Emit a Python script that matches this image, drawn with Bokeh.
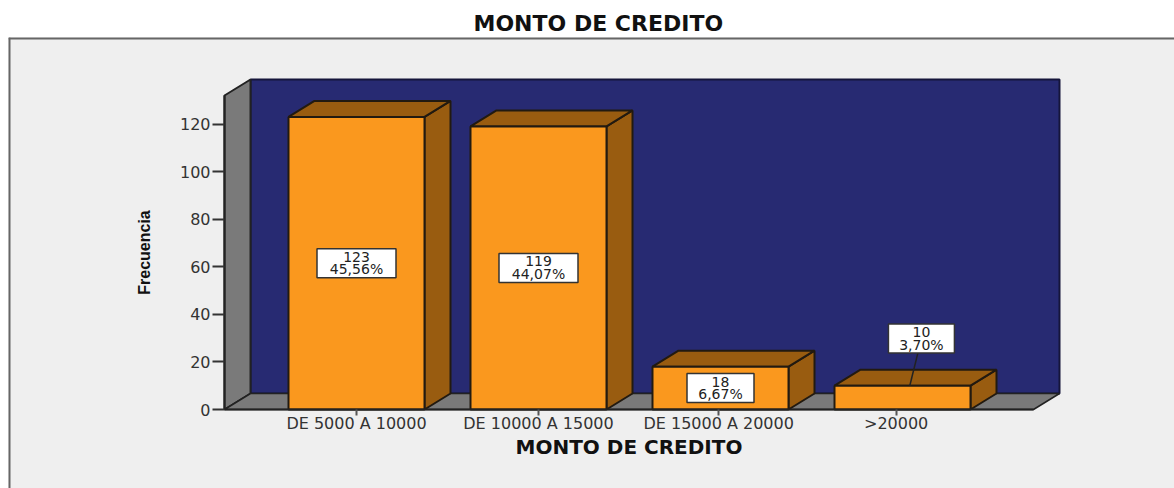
from bokeh.plotting import figure
from bokeh.models import FixedTicker, Label
from bokeh.embed import file_html
from bokeh.resources import INLINE
from bokeh.core.properties import value

title_text = "MONTO DE CREDITO"
x_title = "MONTO DE CREDITO"
y_title = "Frecuencia"
categories = ["DE 5000 A 10000", "DE 10000 A 15000", "DE 15000 A 20000", ">20000"]
frequencies = [123, 119, 18, 10]
percents = ["45,56%", "44,07%", "6,67%", "3,70%"]
label_x = [0.0, 1.0, 2.0, 3.104]
label_y = [61.5, 59.5, 9.0, 29.8]
label_w = [79, 79, 67, 66]
tick_pos = [0, 1, 1.99, 2.965]
y_ticks = [0, 20, 40, 60, 80, 100, 120]

PX_X, PX_Y = 182.0, 2.379          # pixels per data unit
DX, DY = 26 / PX_X, 16 / PX_Y      # depth of the 3D effect
BAR = 136 / PX_X / 2
X0, X1 = -132 / PX_X, 703 / PX_X   # wall edges
XF = X1 - DX                       # right end of the floor front edge
YTOP = 330 / PX_Y
YW = YTOP - DY
VIEW_X = (-348 / PX_X, 818 / PX_X)
VIEW_Y = (-79 / PX_Y, 372 / PX_Y)

NAVY, GREY, ORANGE, BROWN, EDGE = "#272a72", "#7a7a7a", "#fa981e", "#995c10", "#221a10"

p = figure(width=1174, height=488, output_backend="svg", toolbar_location=None,
           x_range=VIEW_X, y_range=VIEW_Y,
           min_border_left=8, min_border_right=0, min_border_top=37, min_border_bottom=0,
           background_fill_color="#efefef", border_fill_color="white", outline_line_color=None)
p.grid.visible = False

# panel edge
p.segment(x0=[VIEW_X[0], VIEW_X[0]], y0=[VIEW_Y[0], VIEW_Y[1]],
          x1=[VIEW_X[0], VIEW_X[1]], y1=[VIEW_Y[1], VIEW_Y[1]],
          line_color="#666666", line_width=4)

# walls and floor
p.patches([[X0 + DX, X1, X1, X0 + DX]], [[DY, DY, YTOP, YTOP]],
          fill_color=NAVY, line_color="#15153a", line_width=2)
p.patches([[X0, X0 + DX, X0 + DX, X0]], [[0, DY, YTOP, YW]],
          fill_color=GREY, line_color="#222222", line_width=2)
p.patches([[X0, X0 + DX, X1, XF]], [[0, DY, DY, 0]],
          fill_color=GREY, line_color="#222222", line_width=1.5)

# bars
for i, v in enumerate(frequencies):
    l, r = i - BAR, i + BAR
    p.patches([[r, r + DX, r + DX, r]], [[0, DY, v + DY, v]],
              fill_color=BROWN, line_color=EDGE, line_width=2)
    p.patches([[l, r, r + DX, l + DX]], [[v, v, v + DY, v + DY]],
              fill_color=BROWN, line_color=EDGE, line_width=2)
    p.patches([[l, r, r, l]], [[0, 0, v, v]],
              fill_color=ORANGE, line_color=EDGE, line_width=2)

# leader of the last label
p.segment(x0=[label_x[3]], y0=[label_y[3]], x1=[3 + 0.04], y1=[frequencies[3]],
          line_color="#222222", line_width=1.5)

# value labels
p.rect(x=label_x, y=label_y, width=label_w, height=[29] * 4, width_units="screen",
       height_units="screen", fill_color="white", line_color="#333333", line_width=1.5)
p.text(x=label_x, y=label_y, text=[str(v) for v in frequencies], y_offset=-6.5,
       text_font=value("DejaVu Sans"), text_font_size="14px", text_color="#222222",
       text_align="center", text_baseline="middle")
p.text(x=label_x, y=label_y, text=percents, y_offset=6,
       text_font=value("DejaVu Sans"), text_font_size="14px", text_color="#222222",
       text_align="center", text_baseline="middle")

# axes drawn at fixed places inside the view
xa = p.xaxis[0]
xa.fixed_location = 0
xa.ticker = FixedTicker(ticks=tick_pos)
xa.major_label_overrides = dict(zip(tick_pos, categories))
xa.bounds = (X0, XF)
xa.axis_line_color = "#222222"
xa.axis_line_width = 2
xa.major_tick_out = 6
xa.major_tick_in = 0
xa.major_tick_line_color = "#555555"
xa.major_tick_line_width = 2
xa.minor_tick_out = 0
xa.minor_tick_in = 0
xa.major_label_text_font = "DejaVu Sans"
xa.major_label_text_font_size = "16px"
xa.major_label_text_color = "#333333"
xa.major_label_standoff = -2

ya = p.yaxis[0]
ya.fixed_location = X0
ya.ticker = FixedTicker(ticks=y_ticks)
ya.bounds = (0, YW)
ya.axis_line_color = "#222222"
ya.axis_line_width = 2
ya.major_tick_out = 12
ya.major_tick_in = 0
ya.major_tick_line_color = "#333333"
ya.major_tick_line_width = 2
ya.minor_tick_out = 0
ya.minor_tick_in = 0
ya.major_label_text_font = "DejaVu Sans"
ya.major_label_text_font_size = "16px"
ya.major_label_text_color = "#333333"
ya.major_label_standoff = 2

# axis titles, centred on the floor edge and wall as in the reference
p.add_layout(Label(x=(XF + X0) / 2, y=0, y_offset=-37, text=x_title, text_align="center",
                   text_baseline="middle", text_font="DejaVu Sans", text_font_style="bold",
                   text_font_size="20px", text_color="#111111"))
p.add_layout(Label(x=X0, y=YW / 2, x_offset=-80, text=y_title, text_align="center",
                   text_baseline="middle", angle=90, angle_units="deg",
                   text_font="Liberation Sans", text_font_style="bold",
                   text_font_size="16px", text_color="#111111"))

p.title.text = title_text
p.title.text_font = "DejaVu Sans"
p.title.text_font_style = "bold"
p.title.text_font_size = "22px"
p.title.text_color = "#111111"
p.title.align = "left"
p.title.offset = 465
p.title.standoff = 4

open("out.html", "w").write(file_html(p, INLINE))
